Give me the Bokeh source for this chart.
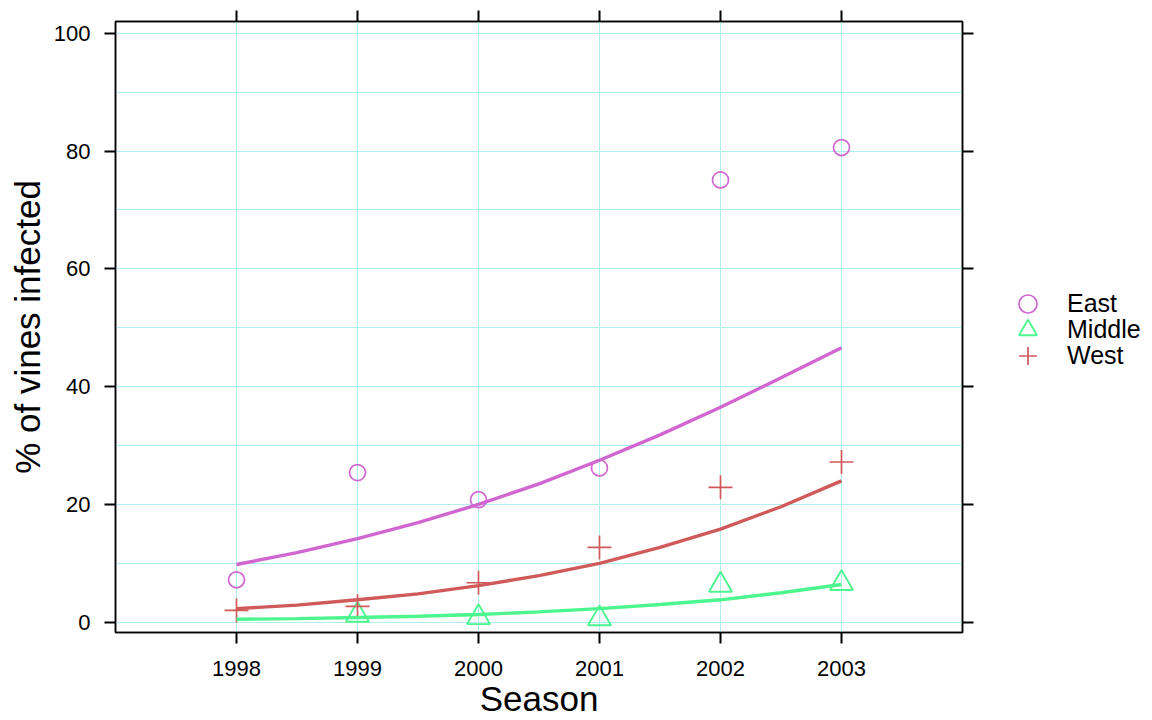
from bokeh.plotting import figure
from bokeh.layouts import row
from bokeh.models import (FixedTicker, LinearAxis, Legend, LegendItem, Range1d,
                          SingleIntervalTicker)
from bokeh.embed import file_html
from bokeh.resources import INLINE

# ---- data ----
years = [1998, 1999, 2000, 2001, 2002, 2003]
east = [7.2, 25.4, 20.8, 26.2, 75.1, 80.6]
middle_years = [1999, 2000, 2001, 2002, 2003]
middle = [1.2, 0.8, 0.6, 6.3, 6.6]
west = [2.0, 2.7, 6.7, 12.7, 22.9, 27.2]

fit_years = [1998, 1998.5, 1999, 1999.5, 2000, 2000.5, 2001, 2001.5, 2002, 2002.5, 2003]
east_fit = [9.8, 11.8, 14.2, 16.9, 20.0, 23.5, 27.5, 31.8, 36.5, 41.5, 46.6]
west_fit = [2.3, 2.9, 3.8, 4.8, 6.2, 7.9, 10.0, 12.7, 15.8, 19.6, 24.0]
middle_fit = [0.5, 0.6, 0.8, 1.0, 1.3, 1.75, 2.3, 3.0, 3.8, 5.0, 6.4]

groups = ["East", "Middle", "West"]

EAST = "#D166D1"
MIDDLE = "#4DF58E"
WEST = "#D05A5A"
GRID = "#AEEEEE"
FONT = "Liberation Sans"
H = 720

p = figure(width=980, height=H, output_backend="svg", toolbar_location=None,
           x_range=Range1d(1997, 2004), y_range=Range1d(-1.75, 102),
           min_border_left=115, min_border_right=18, min_border_top=21,
           min_border_bottom=87, background_fill_color="white",
           border_fill_color="white")
p.outline_line_color = "black"
p.outline_line_width = 1.5

xt = FixedTicker(ticks=years)
yt = SingleIntervalTicker(interval=20, num_minor_ticks=2)

p.xaxis.ticker = xt
p.yaxis.ticker = yt
p.xgrid.ticker = xt
p.ygrid.ticker = yt

p.add_layout(LinearAxis(ticker=xt), "above")
p.add_layout(LinearAxis(ticker=yt), "right")

for ax in p.axis:
    ax.axis_line_color = "black"
    ax.axis_line_width = 1.5
    ax.major_tick_out = 11
    ax.major_tick_in = 0
    ax.major_tick_line_width = 2
    ax.major_tick_line_color = "black"
    ax.minor_tick_line_color = None
    ax.major_label_text_font = FONT
    ax.major_label_text_font_size = "22px"
    ax.major_label_text_color = "black"
    ax.axis_label_text_font = FONT
    ax.axis_label_text_font_size = "35px"
    ax.axis_label_text_font_style = "normal"
    ax.axis_label_text_color = "black"

p.above[0].major_label_text_font_size = "0px"
p.above[0].major_label_standoff = 0
p.right[0].major_label_text_font_size = "0px"
p.right[0].major_label_standoff = 0

p.below[0].axis_label = "Season"
p.below[0].major_label_standoff = 17
p.below[0].axis_label_standoff = 0
p.left[0].axis_label = "% of vines infected"
p.left[0].major_label_standoff = 14
p.left[0].axis_label_standoff = 4

p.xgrid.grid_line_color = GRID
p.ygrid.grid_line_color = GRID
p.ygrid.minor_grid_line_color = GRID

marker_styles = [
    dict(marker="circle", size=16, fill_color=None, line_color=EAST, line_width=1.7),
    dict(marker="triangle", size=23, fill_color=None, line_color=MIDDLE, line_width=1.9),
    dict(marker="cross", size=24, line_color=WEST, line_width=1.7),
]
series = [(years, east), (middle_years, middle), (years, west)]

for (xs, ys), style in zip(series, marker_styles):
    p.scatter(xs, ys, **style)

p.line(fit_years, east_fit, line_color=EAST, line_width=3.4)
p.line(fit_years, middle_fit, line_color=MIDDLE, line_width=3.4)
p.line(fit_years, west_fit, line_color=WEST, line_width=3.4)

# ---- legend panel (separate figure to the right; its frame is row-aligned) ----
q = figure(width=170, height=H, output_backend="svg", toolbar_location=None,
           x_range=Range1d(0, 1), y_range=Range1d(0, 1),
           min_border=0, min_border_left=0, min_border_right=0,
           min_border_top=0, min_border_bottom=0,
           background_fill_color="white", border_fill_color="white")
q.axis.visible = False
q.grid.visible = False
q.outline_line_color = None

FRAME_BOTTOM = 630
row_centers = [302, 328, 354]  # page y of each legend row
for name, style, (xs, ys), cy in zip(groups, marker_styles, series, row_centers):
    # same series drawn in the legend panel; out of its range, so only the key shows
    r = q.scatter(xs, ys, **style)
    lg = Legend(items=[LegendItem(label=name, renderers=[r])],
                location=(25, FRAME_BOTTOM - cy - 22), glyph_width=45, glyph_height=45,
                padding=0, margin=0, spacing=0, label_standoff=17,
                border_line_color=None, background_fill_alpha=0,
                label_text_font=FONT, label_text_font_size="25px",
                label_text_color="black")
    q.add_layout(lg)

open("out.html", "w").write(file_html(row(p, q), INLINE))
